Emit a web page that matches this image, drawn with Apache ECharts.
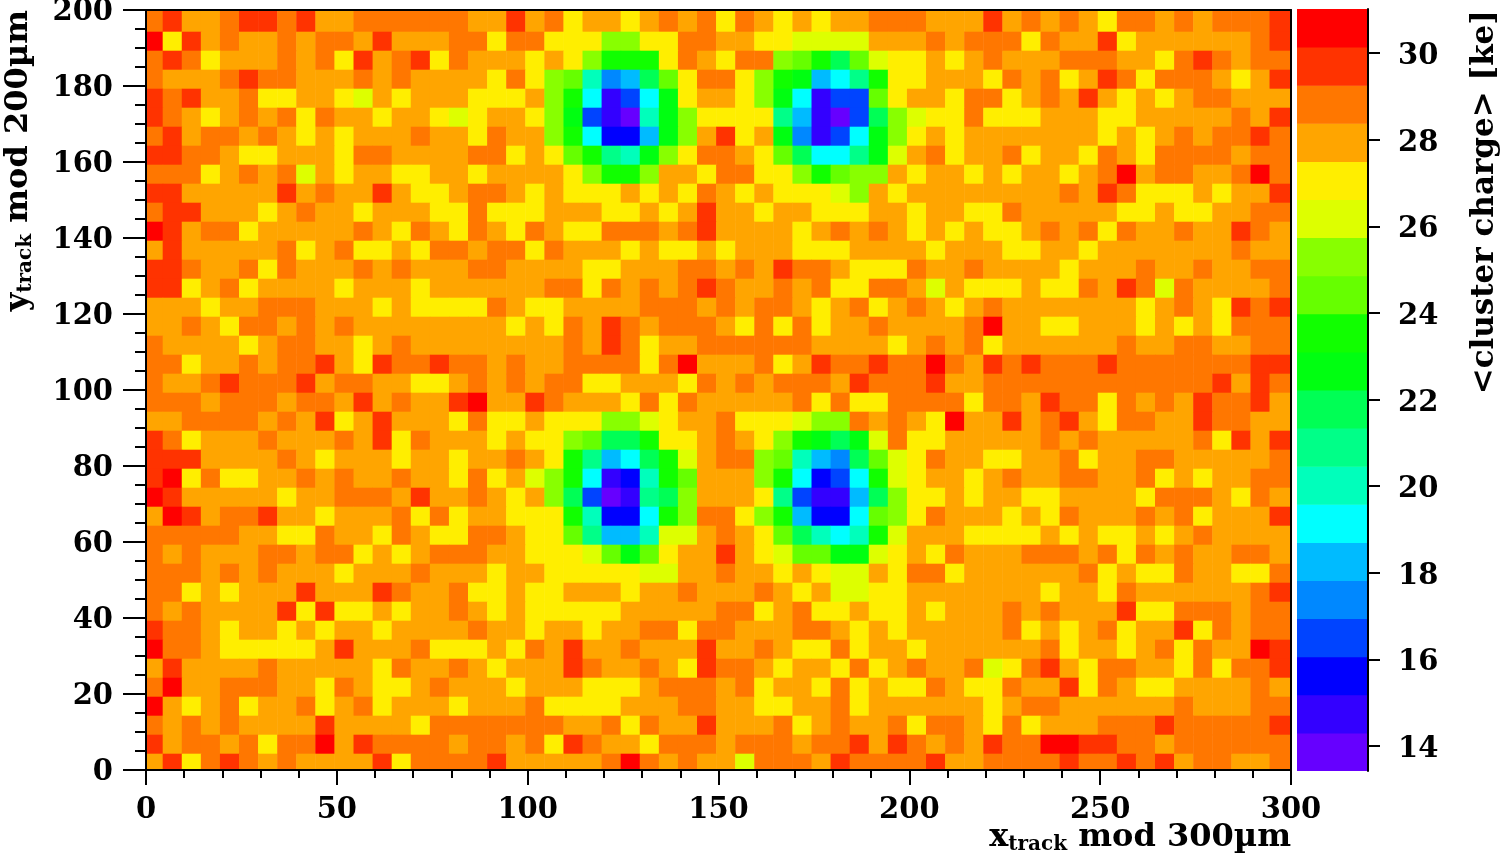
<!DOCTYPE html>
<html>
<head>
<meta charset="utf-8">
<style>html,body{margin:0;padding:0;background:#fff}#c{width:1500px;height:856px}</style>
<script src="https://cdn.jsdelivr.net/npm/echarts@6/dist/echarts.min.js"></script>
</head>
<body>
<div id="c"></div>
<script>
// colour-scale levels, lowest charge first
const levelLetters = "tsrqponmlkjihgfedcba";
const levelColors = ["#6600ff","#3300ff","#0000ff","#0044ff","#0088ff","#00bbff","#00ffff","#00ffbb","#00ff88","#00ff55",
                     "#00ff11","#11ff00","#66ff00","#88ff00","#ddff00","#ffee00","#ffa500","#ff7700","#ff3300","#ff0000"];
const scaleMin = 13.42;
const scaleStep = 0.88;
const xTicks = [0,50,100,150,200,250,300];
const yTicks = [0,20,40,60,80,100,120,140,160,180,200];
const scaleTicks = [14,16,18,20,22,24,26,28,30];
// mean cluster charge per 5 x 5 um bin as colour-level letters; top row (y=195) first, each row x=0..295
const chargeLevelRows = [
"cbddcbbcbddccccccddb"+"dceddedcdcecdededdcc"+"cdddbdcdcdeccdcdcccb",
"aebdcddcdccdbdddccec"+"ceeeggeeccddeeffffdd"+"dcdcccecddbeddddddcb",
"cbcedddcdcebdcbecddd"+"edegiiiecdeccghikhfe"+"ededcdddcccddecbcdcc",
"cdddcbccdddcdcddddec"+"eghmpokheccegijonlie"+"edddecdcedbcecccdedb",
"bcbddceeddefdedddeee"+"dginsqnjeddegjnsqqhe"+"ddeccedcdbdededccddd",
"bcdedcdcecddeddefedd"+"egjqstmjgeeeelostqkg"+"feeceeedddeedddddcdb",
"cbdccdcdededddcddecd"+"dginrrojgdbedjpsqnjg"+"ededddddddededcdccbc",
"bbccdeedddeccddddcce"+"dehilmjgeccdehknnljf"+"dceddceddecdeccccdcc",
"cccedcdcfdeddeeddedd"+"ddegiigddecceegihggd"+"eddededdedcadccddcac",
"bbdddddbdcddbdeedccd"+"edeeededecdedeeefgde"+"ddddddddcdbceeededdb",
"cbbdddedcddedddeecee"+"edddeededbddeddeeedd"+"eddeecdddddeedeeddcc",
"abdccedddddcdecdecde"+"cdeecccdcbddddedcdcd"+"ededeedcdcecddcddbcd",
"dbdddddcedceedeccdcc"+"ecdddedeededddeeeddd"+"dedddeeddedddddddcdd",
"bbcddcecdddcdcdddccd"+"dddeedddccdcdbccdeee"+"cddcddddedddcddcddcc",
"bbedceddddedddeddddd"+"dccecdcdcbcddcdceecc"+"dfdeeedeecdbcfcddddc",
"dddeddcccdddedeeeecd"+"eeddddcccdcdccdedced"+"cdedcdddddddedcdebcb",
"ddcdeccdcdcdddddddde"+"decdbcdcccdececeddcd"+"dddcaddeedddededeccc",
"cddddedccddedcdddddd"+"ddcdbceddccccccdddde"+"dcdceddddddcddccddcc",
"cceddcdccbdebccbccdc"+"ddccccecadddcedbccbc"+"cacdbcbcccbcccccccbb",
"cddcbcccbdccddeedcdc"+"dcceedddecdcdcccdbcc"+"cbddccccccccccccbdbc",
"cccdcccdccdbdcddbadd"+"bcdddececdddddceceec"+"ccceccdbccecdcdbccbd",
"ddccccdcdbedbdddecee"+"deeeggfeddceeefggcdc"+"deaddbdcbdeccddbccdd",
"bcedddcdddcdbecddded"+"eeghkkieedcdegijkjfc"+"eedddddcdcdddddcebdb",
"bbbddddcdedddeddeddc"+"deilonkifdccghmopkhf"+"ecddeeddceddccdddddc",
"baeceeddcdcddcddeced"+"fginsrmihdddginrqnif"+"eddedcddccddcededdcc",
"abdddddeddcccdbddcde"+"dgkqtslkgdddelqssokg"+"eededdeeddddecccdecd",
"dabdccbddedddcecedde"+"eeimrrnigccegiorrnhg"+"ecdddedecdddcdcedddb",
"cccccddeecddecdeeccd"+"eehloomffdcdehkmnmif"+"dddeeeededeededcdddd",
"cdcdddccdccededcccdd"+"eeefhjheddbdefhhjjfe"+"decdddcccdcecdcddccd",
"cccdcdcdddedddcddded"+"deeeeeffddcddedeffde"+"cceddddddcedeecddeec",
"ccededddbdddbcddceed"+"eedddeddcdddcdedffee"+"dddddddeddecddddddcb",
"cdcddddbebeededdcded"+"eeeeedddddccedceedee"+"dedddcdcdddbeecccdcc",
"bccdeddededdeddddcdd"+"eddeddcceccdddccdede"+"dddddcededceddbecdcc",
"accdeeeeedbdddceeede"+"cdbddcdddbddcdeecedd"+"eddddddceddedcecddab",
"dbddddcdddddecddcded"+"ddbcddcdebccdeddeced"+"cddcfecbdeccddececcb",
"caddcccddecdeedcddde"+"dddeeedcccdceddecede"+"ecdeecddbecdeeddddcd",
"adedceddcedcedddeddd"+"ceeeedddccddeeddcedd"+"ddddedccddddddcdddcc",
"cdcdcddddbddddeccccc"+"ccddcecddbdddcedcddc"+"eccdecedddcccbcccccb",
"bdccdceccadbccccdccd"+"cebcddecccdcccdccbdb"+"cdcdbccaabbccdcccccc",
"dbecbcdcddddbeccccbd"+"ddddcacdcddfcccdbccc"+"cbddccccbccbcbdccddc"
];

const serif = "'DejaVu Serif'";
const binSize = 5;
const binShiftX = -0.63;
const binShiftY = -0.71;

const cells = [];
chargeLevelRows.forEach((row, i) => {
  const yBin = (chargeLevelRows.length - 1 - i) * binSize;
  for (let c = 0; c < 60; c++) {
    const lvl = levelLetters.indexOf(row[c]);
    cells.push([c * binSize, yBin, scaleMin + scaleStep * (lvl + 0.5)]);
  }
});
const scaleBands = levelColors.map((col, k) => [scaleMin + k * scaleStep, scaleMin + (k + 1) * scaleStep]);
const pieces = levelColors.map((col, k) => ({gte: scaleBands[k][0], lt: scaleBands[k][1], color: col}));

const frameLine = {show: true, onZero: false, lineStyle: {color: "#000", width: 2}};
const tickFont = {color: "#000", fontFamily: serif, fontWeight: "bold", fontSize: 29};

const chart = echarts.init(document.getElementById("c"), null, {renderer: "canvas"});
chart.setOption({
  animation: false,
  backgroundColor: "#fff",
  grid: [
    {left: 146, top: 10, width: 1145, height: 760, containLabel: false, outerBoundsMode: "none"},
    {left: 1297, top: 9, width: 71, height: 762, containLabel: false, outerBoundsMode: "none"}
  ],
  xAxis: [
    {type: "value", gridIndex: 0, min: xTicks[0], max: xTicks[xTicks.length - 1], interval: 50, position: "bottom", z: 10,
     axisLine: frameLine, splitLine: {show: false},
     axisTick: {show: true, length: 15, lineStyle: {color: "#000", width: 2}},
     minorTick: {show: true, splitNumber: 5, length: 8, lineStyle: {color: "#000", width: 2}},
     axisLabel: Object.assign({margin: 26, showMinLabel: true, showMaxLabel: true}, tickFont)},
    {type: "value", gridIndex: 0, min: 0, max: 300, position: "top", z: 10, axisLine: frameLine,
     axisTick: {show: false}, axisLabel: {show: false}, splitLine: {show: false}},
    {type: "value", gridIndex: 1, min: 0, max: 1, show: false}
  ],
  yAxis: [
    {type: "value", gridIndex: 0, min: yTicks[0], max: yTicks[yTicks.length - 1], interval: 20, position: "left", z: 10,
     axisLine: frameLine, splitLine: {show: false},
     axisTick: {show: true, length: 23, lineStyle: {color: "#000", width: 2}},
     minorTick: {show: true, splitNumber: 4, length: 11, lineStyle: {color: "#000", width: 2}},
     axisLabel: Object.assign({margin: 33, verticalAlign: "top", lineHeight: 4, showMinLabel: true, showMaxLabel: true}, tickFont)},
    {type: "value", gridIndex: 0, min: 0, max: 200, position: "right", z: 10, axisLine: frameLine,
     axisTick: {show: false}, axisLabel: {show: false}, splitLine: {show: false}},
    {type: "value", gridIndex: 1, min: scaleMin, max: scaleMin + 20 * scaleStep, position: "right", z: 10,
     axisLine: frameLine, splitLine: {show: false},
     axisTick: {show: true, length: 12, customValues: scaleTicks, lineStyle: {color: "#000", width: 2}},
     axisLabel: Object.assign({margin: 30, verticalAlign: "top", lineHeight: 7, customValues: scaleTicks, formatter: v => String(v)}, tickFont)}
  ],
  visualMap: {type: "piecewise", show: false, seriesIndex: 0, dimension: 2, pieces: pieces},
  series: [
    {
      type: "custom", xAxisIndex: 0, yAxisIndex: 0, clip: true, data: cells,
      encode: {x: 0, y: 1},
      renderItem(params, api) {
        const x = api.value(0), y = api.value(1);
        const x1 = x + binSize >= 300 ? 300 : x + binSize + binShiftX;
        const y1 = y + binSize >= 200 ? 200 : y + binSize + binShiftY;
        const p0 = api.coord([x + binShiftX, y1]);
        const p1 = api.coord([x1, y + binShiftY]);
        return {type: "rect", shape: {x: p0[0], y: p0[1], width: p1[0] - p0[0] + 0.5, height: p1[1] - p0[1] + 0.5},
                style: {fill: api.visual("color")}};
      }
    },
    {
      type: "custom", xAxisIndex: 2, yAxisIndex: 2, clip: true, data: scaleBands,
      encode: {y: [0, 1]},
      renderItem(params, api) {
        const p0 = api.coord([0, api.value(1)]);
        const p1 = api.coord([1, api.value(0)]);
        return {type: "rect", shape: {x: p0[0], y: p0[1], width: p1[0] - p0[0], height: p1[1] - p0[1] + 0.5},
                style: {fill: levelColors[params.dataIndex]}};
      }
    }
  ],
  graphic: [
    {type: "text", x: 1291, y: 838, style: {
      text: "{m|x}{s|track}{m| mod 300µm}", align: "right", verticalAlign: "middle",
      rich: {m: {fontFamily: serif, fontWeight: "bold", fontSize: 32, fill: "#000", color: "#000"},
             s: {fontFamily: serif, fontWeight: "bold", fontSize: 20, fill: "#000", color: "#000", padding: [14, 0, 0, 0]}}}},
    {type: "text", x: 19, y: 10, rotation: Math.PI / 2, style: {
      text: "{m|y}{s|track}{m| mod 200µm}", align: "right", verticalAlign: "middle",
      rich: {m: {fontFamily: serif, fontWeight: "bold", fontSize: 32, fill: "#000", color: "#000"},
             s: {fontFamily: serif, fontWeight: "bold", fontSize: 20, fill: "#000", color: "#000", padding: [14, 0, 0, 0]}}}},
    {type: "text", x: 1485, y: 10, rotation: Math.PI / 2, style: {
      text: "<cluster charge> [ke]", align: "right", verticalAlign: "middle",
      fontFamily: serif, fontWeight: "bold", fontSize: 31, fill: "#000"}}
  ]
});
</script>
</body>
</html>
